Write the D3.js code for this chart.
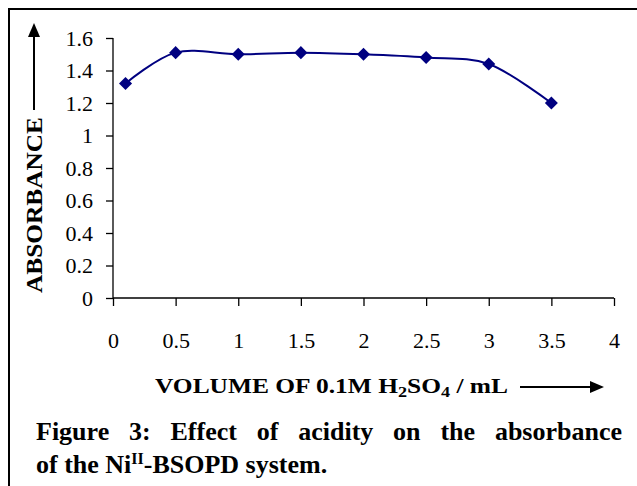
<!DOCTYPE html>
<meta charset="utf-8">
<style>
body { margin: 0; background: #fff; }
svg text { font-family: "Liberation Serif", "DejaVu Serif", serif; fill: #000; }
.bold { font-weight: bold; }
</style>
<body>
<script src="https://d3js.org/d3.v7.min.js"></script>
<script>

// data
var volume = [0.1, 0.5, 1, 1.5, 2, 2.5, 3, 3.5];
var absorbance = [1.32, 1.51, 1.50, 1.51, 1.50, 1.48, 1.44, 1.20];
var xTicks = [0, 0.5, 1, 1.5, 2, 2.5, 3, 3.5, 4];
var yTicks = [0, 0.2, 0.4, 0.6, 0.8, 1, 1.2, 1.4, 1.6];

var W = 637, H = 486;
var svg = d3.select("body").append("svg")
    .attr("width", W)
    .attr("height", H);

// frame (left + top only)
svg.append("path")
    .attr("d", "M9,486 V9 H637")
    .attr("fill", "none")
    .attr("stroke", "#000")
    .attr("stroke-width", 2);

var x = d3.scaleLinear().domain([0, 4]).range([113, 614]);
var y = d3.scaleLinear().domain([0, 1.6]).range([298, 38]);

// axes
var gx = svg.append("g")
    .attr("transform", "translate(0,298)")
    .call(d3.axisBottom(x).tickValues(xTicks).tickSize(8).tickPadding(26)
      .tickFormat(d3.format("")));
var gy = svg.append("g")
    .attr("transform", "translate(113,0)")
    .call(d3.axisLeft(y).tickValues(yTicks).tickSize(7).tickPadding(13)
      .tickFormat(d3.format("")));
[gx, gy].forEach(function(g) {
  g.select(".domain").attr("stroke", "#000").attr("stroke-width", 1.3);
  g.selectAll(".tick line").attr("stroke", "#000").attr("stroke-width", 1.3);
  g.selectAll(".tick text").attr("fill", "#333").style("font-size", "22px")
    .style("font-family", "'Liberation Serif', serif");
});
gy.select(".domain").attr("d", "M0,298V38");
gx.select(".domain").attr("d", "M113,0H614");

// smooth line
var pts = volume.map(function(v, i) { return [v, absorbance[i]]; });
var line = d3.line()
    .x(function(d) { return x(d[0]); })
    .y(function(d) { return y(d[1]); })
    .curve(d3.curveCardinal.tension(0));
svg.append("path")
    .datum(pts)
    .attr("d", line)
    .attr("fill", "none")
    .attr("stroke", "#000080")
    .attr("stroke-width", 2);

// diamond markers
svg.selectAll(".pt")
    .data(pts)
  .enter().append("path")
    .attr("class", "pt")
    .attr("d", d3.symbol().type(d3.symbolSquare).size(85))
    .attr("transform", function(d) {
      return "translate(" + x(d[0]) + "," + y(d[1]) + ") rotate(45)";
    })
    .attr("fill", "#000080");

// y axis title with arrow
svg.append("text")
    .attr("class", "bold")
    .attr("transform", "translate(42,293) rotate(-90)")
    .attr("textLength", 176)
    .attr("lengthAdjust", "spacingAndGlyphs")
    .style("font-size", "24px")
    .text("ABSORBANCE");
svg.append("line")
    .attr("x1", 34).attr("x2", 34).attr("y1", 110).attr("y2", 34)
    .attr("stroke", "#000").attr("stroke-width", 2);
svg.append("path")
    .attr("d", "M34,23 L28,37 L40,37 Z")
    .attr("fill", "#000");

// x axis title with arrow
var xt = svg.append("text")
    .attr("class", "bold")
    .attr("x", 155).attr("y", 393)
    .attr("textLength", 353)
    .attr("lengthAdjust", "spacingAndGlyphs")
    .style("font-size", "21px");
xt.append("tspan").text("VOLUME OF 0.1M H");
xt.append("tspan").attr("dy", 4).style("font-size", "15px").text("2");
xt.append("tspan").attr("dy", -4).text("SO");
xt.append("tspan").attr("dy", 4).style("font-size", "15px").text("4");
xt.append("tspan").attr("dy", -4).text(" / mL");
svg.append("line")
    .attr("x1", 520).attr("x2", 592).attr("y1", 387).attr("y2", 387)
    .attr("stroke", "#000").attr("stroke-width", 2);
svg.append("path")
    .attr("d", "M604,387 L590,381 L590,393 Z")
    .attr("fill", "#000");

// caption, first line justified by word spacing
var cap1Text = "Figure 3: Effect of acidity on the absorbance";
var cap1 = svg.append("text")
    .attr("class", "bold")
    .attr("x", 36).attr("y", 440)
    .style("font-size", "26px")
    .text(cap1Text);
var natural = cap1.node().getComputedTextLength();
var gaps = cap1Text.split(" ").length - 1;
cap1.style("word-spacing", ((586 - natural) / gaps) + "px");

var cap2 = svg.append("text")
    .attr("class", "bold")
    .attr("x", 36).attr("y", 473)
    .style("font-size", "26px");
cap2.append("tspan").text("of the Ni");
cap2.append("tspan").attr("dy", -9).style("font-size", "16px").text("II");
cap2.append("tspan").attr("dy", 9).text("-BSOPD system.");

</script>
</body>
